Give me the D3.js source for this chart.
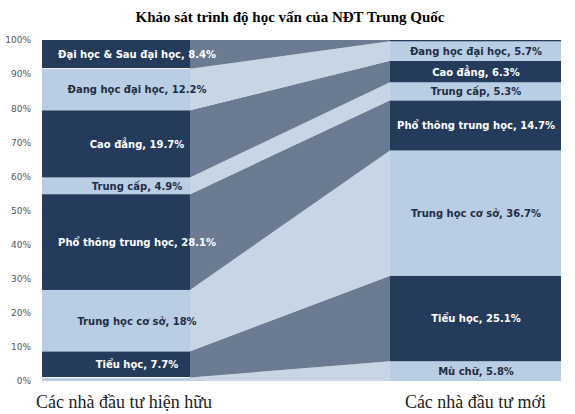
<!DOCTYPE html>
<html>
<head>
<script src="https://cdn.jsdelivr.net/npm/d3@7/dist/d3.min.js"></script>
<style>body{margin:0;background:#fff}</style>
</head>
<body>
<div id="viz"></div>
<script>
// categories bottom -> top
var categories = ["Mù chữ", "Tiểu học", "Trung học cơ sở", "Phổ thông trung học", "Trung cấp", "Cao đẳng", "Đang học đại học", "Đại học & Sau đại học"];
var existing = [1.0, 7.7, 18, 28.1, 4.9, 19.7, 12.2, 8.4];
var newcomers = [5.8, 25.1, 36.7, 14.7, 5.3, 6.3, 5.7, 0.4];
var groups = ["Các nhà đầu tư hiện hữu", "Các nhà đầu tư mới"];
var ticks = [0, 10, 20, 30, 40, 50, 60, 70, 80, 90, 100];
var title = "Khảo sát trình độ học vấn của NĐT Trung Quốc";

var width = 575, height = 414;
var svg = d3.select("#viz").append("svg").attr("width", width).attr("height", height);

var y = d3.scaleLinear().domain([0, 100]).range([381, 40]);
var x = d3.scaleOrdinal().domain(groups).range([[42, 190], [390, 561]]);

function stack(vals) {
  var acc = 0;
  return vals.map(function(v) { var s = {y0: acc, y1: acc + v, v: v}; acc += v; return s; });
}
var left = stack(existing), right = stack(newcomers);

var darkBar = "#243b5c", lightBar = "#b9cde5";
var darkLink = "#6b7b92", lightLink = "#c8d5e5";
function isDark(i) { return i % 2 == 1; }

var L = x(groups[0]), R = x(groups[1]);

// connectors
categories.forEach(function(c, i) {
  var a = left[i], b = right[i];
  var pts = [[L[1], y(a.y0)], [R[0], y(b.y0)], [R[0], y(b.y1)], [L[1], y(a.y1)]];
  svg.append("path").attr("d", "M" + pts.join("L") + "Z")
    .attr("fill", isDark(i) ? darkLink : lightLink);
});

// bars
[[L, left], [R, right]].forEach(function(g) {
  g[1].forEach(function(s, i) {
    svg.append("rect").attr("x", g[0][0]).attr("width", g[0][1] - g[0][0])
      .attr("y", y(s.y1)).attr("height", y(s.y0) - y(s.y1))
      .attr("fill", isDark(i) ? darkBar : lightBar);
  });
});
// thin separator lines on left bar
svg.append("line").attr("x1", L[0]).attr("x2", L[1]).attr("y1", y(left[7].y0)).attr("y2", y(left[7].y0)).attr("stroke", "#fff");
svg.append("line").attr("x1", L[0]).attr("x2", L[1]).attr("y1", y(left[1].y0)).attr("y2", y(left[1].y0)).attr("stroke", "#fff");

// segment labels
function labels(stk, vals, cx, skip) {
  stk.forEach(function(s, i) {
    if (skip.indexOf(i) >= 0) return;
    svg.append("text").attr("x", cx).attr("y", y((s.y0 + s.y1) / 2) + 4)
      .attr("text-anchor", "middle")
      .attr("font-family", "DejaVu Sans").attr("font-size", 10).attr("font-weight", "bold")
      .attr("fill", isDark(i) ? "#fff" : "#1f2d44")
      .text(categories[i] + ", " + vals[i] + "%");
  });
}
labels(left, existing, 137, [0]);
labels(right, newcomers, 476, [7]);

// y axis
var axis = svg.append("g").attr("transform", "translate(34,0)")
  .call(d3.axisLeft(y).tickValues(ticks).tickSize(0).tickFormat(function(d) { return d + "%"; }));
axis.select(".domain").remove();
axis.selectAll("text").attr("font-family", "DejaVu Sans").attr("font-size", 9).attr("fill", "#555");

// group labels
svg.selectAll(".grp").data(groups).enter().append("text")
  .attr("x", function(d) { var r = x(d); return (r[0] + r[1]) / 2 + (d == groups[0] ? 8 : 0); })
  .attr("y", 408).attr("text-anchor", "middle")
  .attr("font-family", "Liberation Serif").attr("font-size", 18).attr("fill", "#222")
  .text(function(d) { return d; });

svg.append("text").attr("x", 290).attr("y", 22).attr("text-anchor", "middle")
  .attr("font-family", "Liberation Serif").attr("font-size", 15).attr("font-weight", "bold")
  .text(title);
</script>
</body>
</html>
